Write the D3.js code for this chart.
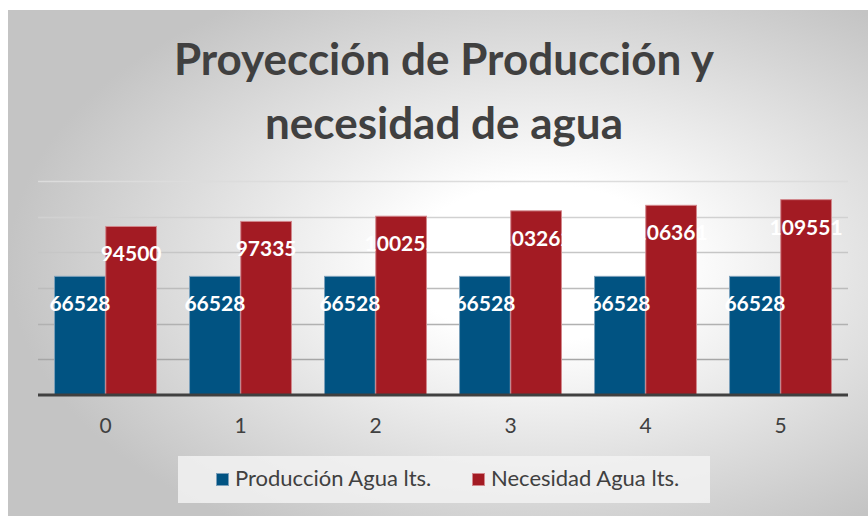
<!DOCTYPE html>
<html>
<head>
<meta charset="utf-8">
<script src="https://cdn.jsdelivr.net/npm/d3@7"></script>
<style>
  body { margin: 0; background: #fff; }
  svg { display: block; }
</style>
</head>
<body>
<svg id="chart"></svg>
<script>
// data
const categories = ['0', '1', '2', '3', '4', '5'];
const seriesNames = ['Producción Agua lts.', 'Necesidad Agua lts.'];
const produccion = [66528, 66528, 66528, 66528, 66528, 66528];
const necesidad = [94500, 97335, 100255, 103262, 106361, 109551];
const yTicks = [0, 20000, 40000, 60000, 80000, 100000, 120000];
const titleLines = ['Proyección de Producción y', 'necesidad de agua'];

const W = 868, H = 516;
const BLUE = '#015382', RED = '#a31b23', TEXT = '#404040';

const svg = d3.select('#chart').attr('width', W).attr('height', H);

// background gradient
const defs = svg.append('defs');
const grad = defs
  .append('radialGradient')
  .attr('id', 'bg')
  .attr('cx', '62%')
  .attr('cy', '50%')
  .attr('r', '62%');
grad.append('stop').attr('offset', '0%').attr('stop-color', '#ffffff');
grad.append('stop').attr('offset', '25%').attr('stop-color', '#ffffff');
grad.append('stop').attr('offset', '100%').attr('stop-color', '#c4c4c4');

svg
  .append('rect')
  .attr('x', 8)
  .attr('y', 10)
  .attr('width', W - 8)
  .attr('height', H - 10)
  .attr('fill', 'url(#bg)');

// title
svg
  .append('g')
  .selectAll('text')
  .data(titleLines)
  .enter()
  .append('text')
  .attr('x', 444)
  .attr('y', (d, i) => 75 + i * 64)
  .attr('text-anchor', 'middle')
  .style('font-family', 'Lato, sans-serif')
  .style('font-weight', 'bold')
  .style('font-size', '44px')
  .attr('fill', TEXT)
  .text((d) => d);

// scales
const x0 = d3
  .scaleBand()
  .domain(categories)
  .range([38, 848])
  .paddingInner(0.245)
  .paddingOuter(0.1225);

const x1 = d3
  .scaleBand()
  .domain(seriesNames)
  .range([0, x0.bandwidth()])
  .paddingInner(0.01);

const y = d3.scaleLinear().domain([0, 120000]).range([395, 181]);

// gridlines
svg
  .append('g')
  .selectAll('line')
  .data(yTicks.slice(1))
  .enter()
  .append('line')
  .attr('x1', 38)
  .attr('x2', 848)
  .attr('y1', (d) => Math.round(y(d)) + 0.5)
  .attr('y2', (d) => Math.round(y(d)) + 0.5)
  .attr('stroke', (d, i) => d3.interpolateRgb('#a6a6a6', '#dcdcdc')(i / 5))
  .attr('stroke-width', 1.5);

// bars
const rows = categories.map((c, i) => ({
  cat: c,
  vals: [
    { name: seriesNames[0], value: produccion[i], color: BLUE, edge: '#7b9fba' },
    { name: seriesNames[1], value: necesidad[i], color: RED, edge: '#d2878c' },
  ],
}));

const groups = svg
  .append('g')
  .selectAll('g')
  .data(rows)
  .enter()
  .append('g')
  .attr('transform', (d) => 'translate(' + x0(d.cat) + ',0)');

groups
  .selectAll('rect')
  .data((d) => d.vals)
  .enter()
  .append('rect')
  .attr('x', (d) => x1(d.name))
  .attr('y', (d) => y(d.value))
  .attr('width', x1.bandwidth())
  .attr('height', (d) => y(0) - y(d.value))
  .attr('fill', (d) => d.color)
  .attr('stroke', (d) => d.edge)
  .attr('stroke-width', 1);

// value labels (white, inside end)
groups
  .selectAll('text')
  .data((d) => d.vals)
  .enter()
  .append('text')
  .attr('x', (d) => x1(d.name) + x1.bandwidth() / 2)
  .attr('y', (d) => y(d.value) + 35)
  .attr('text-anchor', 'middle')
  .style('font-family', 'Lato, sans-serif')
  .style('font-weight', 'bold')
  .style('font-size', '21px')
  .attr('fill', '#ffffff')
  .text((d) => d.value);

// x axis
const xAxis = svg
  .append('g')
  .attr('transform', 'translate(0,' + y(0) + ')')
  .call(d3.axisBottom(x0).tickSize(0).tickPadding(0));
xAxis.select('.domain').remove();
xAxis
  .selectAll('text')
  .attr('dy', null)
  .attr('y', 38)
  .style('font-family', 'Lato, sans-serif')
  .style('font-size', '21px')
  .attr('fill', TEXT);

svg
  .append('line')
  .attr('x1', 38)
  .attr('x2', 848)
  .attr('y1', y(0))
  .attr('y2', y(0))
  .attr('stroke', '#404040')
  .attr('stroke-width', 3);

// legend
const legend = svg.append('g');
legend
  .append('rect')
  .attr('x', 178)
  .attr('y', 456)
  .attr('width', 532)
  .attr('height', 47)
  .attr('fill', '#f2f2f2')
  .attr('fill-opacity', 0.85);

const legendItems = [
  { name: seriesNames[0], color: BLUE, edge: '#7b9fba', x: 216 },
  { name: seriesNames[1], color: RED, edge: '#d2878c', x: 472 },
];

const li = legend
  .selectAll('g')
  .data(legendItems)
  .enter()
  .append('g')
  .attr('transform', (d) => 'translate(' + d.x + ',0)');

li.append('rect')
  .attr('x', 0.5)
  .attr('y', 473.5)
  .attr('width', 12)
  .attr('height', 12)
  .attr('fill', (d) => d.color)
  .attr('stroke', (d) => d.edge);

li.append('text')
  .attr('x', 19)
  .attr('y', 486)
  .style('font-family', 'Lato, sans-serif')
  .style('font-size', '22px')
  .attr('fill', TEXT)
  .text((d) => d.name);
</script>
</body>
</html>
